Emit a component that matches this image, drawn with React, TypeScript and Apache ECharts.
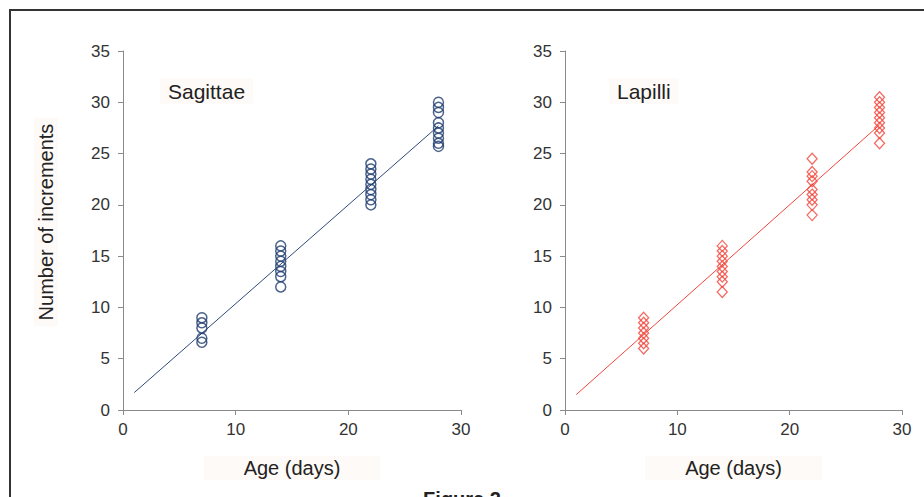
import React, { useEffect, useRef } from "react";
import * as echarts from "echarts";

const xTicks = [0, 10, 20, 30];
const ages = [7, 14, 22, 28];
const sagittae7 = [9, 8.5, 8, 7, 6.6];
const sagittae14 = [16, 15.5, 15, 14.5, 14, 13.5, 13, 12];
const sagittae22 = [24, 23.5, 23, 22.5, 22, 21.5, 21, 20.5, 20];
const sagittae28 = [30, 29.5, 29, 28, 27.5, 27, 26.5, 26, 25.7];
const lapilli7 = [9, 8.5, 8, 7.5, 7, 6.5, 6];
const lapilli14 = [16, 15.5, 15, 14.5, 14, 13.5, 13, 12.5, 11.5];
const lapilli22 = [24.5, 23.2, 22.8, 22.3, 21.5, 21, 20.5, 20, 19];
const lapilli28 = [30.5, 30, 29.5, 29, 28.5, 28, 27.5, 27, 26];
const sagittaeFit = [[1, 1.7], [28, 27.7]];
const lapilliFit = [[1, 1.5], [28, 27.8]];

const FONT = "'Liberation Sans', Arial, sans-serif";
const PATCH = "#fefaf7";

function toPoints(groups: number[][]) {
  const pts: number[][] = [];
  groups.forEach((g, i) => g.forEach((v) => pts.push([ages[i], v])));
  return pts;
}

export default function App() {
  const ref = useRef<HTMLDivElement>(null);
  useEffect(() => {
    if (!ref.current) return;
    const chart = echarts.init(ref.current, null, { renderer: "svg" });
    const axisLine = { lineStyle: { color: "#8a8a8a", width: 1 } };
    const xAxisBase = {
      type: "value",
      min: xTicks[0],
      max: xTicks[xTicks.length - 1],
      interval: 10,
      axisLine: { show: true, onZero: false, ...axisLine },
      axisTick: { show: true, length: 5, lineStyle: { color: "#8a8a8a" } },
      splitLine: { show: false },
      axisLabel: { color: "#333", fontSize: 17, fontFamily: FONT, margin: 11 },
      name: "Age (days)",
      nameLocation: "middle",
      nameGap: 46,
      nameTextStyle: {
        color: "#222",
        fontSize: 20,
        fontFamily: FONT,
        backgroundColor: PATCH,
        padding: [2, 40, 2, 40],
      },
    };
    const yAxisBase = {
      type: "value",
      min: 0,
      max: 35,
      interval: 5,
      axisLine: { show: true, onZero: false, ...axisLine },
      axisTick: { show: true, length: 5, lineStyle: { color: "#8a8a8a" } },
      splitLine: { show: false },
      axisLabel: { color: "#333", fontSize: 17, fontFamily: FONT, margin: 13 },
    };
    chart.setOption({
      animation: false,
      backgroundColor: "#ffffff",
      grid: [
        { left: 123, top: 51, width: 338, height: 359 },
        { left: 565, top: 51, width: 337, height: 359 },
      ],
      xAxis: [
        { ...xAxisBase, gridIndex: 0 },
        { ...xAxisBase, gridIndex: 1 },
      ],
      yAxis: [
        { ...yAxisBase, gridIndex: 0 },
        { ...yAxisBase, gridIndex: 1 },
      ],
      series: [
        {
          type: "line",
          xAxisIndex: 0,
          yAxisIndex: 0,
          data: sagittaeFit,
          showSymbol: false,
          lineStyle: { color: "#2e4a7a", width: 1 },
          z: 1,
        },
        {
          type: "scatter",
          xAxisIndex: 0,
          yAxisIndex: 0,
          data: toPoints([sagittae7, sagittae14, sagittae22, sagittae28]),
          symbol: "circle",
          symbolSize: 10,
          itemStyle: { color: "rgba(0,0,0,0)", borderColor: "#1f3c6e", borderWidth: 1.5 },
          z: 2,
        },
        {
          type: "line",
          xAxisIndex: 1,
          yAxisIndex: 1,
          data: lapilliFit,
          showSymbol: false,
          lineStyle: { color: "#f0463c", width: 1 },
          z: 1,
        },
        {
          type: "scatter",
          xAxisIndex: 1,
          yAxisIndex: 1,
          data: toPoints([lapilli7, lapilli14, lapilli22, lapilli28]),
          symbol: "diamond",
          symbolSize: [10, 11],
          itemStyle: { color: "rgba(0,0,0,0)", borderColor: "#f0463c", borderWidth: 1.3 },
          z: 2,
        },
      ],
      graphic: [
        {
          type: "rect",
          shape: { x: 10, y: 10, width: 960, height: 540 },
          style: { fill: "none", stroke: "#333", lineWidth: 2 },
          silent: true,
        },
        {
          type: "text",
          x: 160,
          y: 91,
          style: {
            text: "Sagittae",
            font: `21px ${FONT}`,
            fill: "#222",
            verticalAlign: "middle",
            backgroundColor: PATCH,
            padding: [2, 8, 2, 8],
          },
        },
        {
          type: "text",
          x: 609,
          y: 91,
          style: {
            text: "Lapilli",
            font: `21px ${FONT}`,
            fill: "#222",
            verticalAlign: "middle",
            backgroundColor: PATCH,
            padding: [2, 8, 2, 8],
          },
        },
        {
          type: "text",
          x: 46,
          y: 222,
          rotation: Math.PI / 2,
          style: {
            text: "Number of increments",
            font: `20px ${FONT}`,
            fill: "#222",
            align: "center",
            verticalAlign: "middle",
            backgroundColor: PATCH,
            padding: [2, 6, 2, 6],
          },
        },
        {
          type: "text",
          x: 462,
          y: 489,
          style: {
            text: "Figure 2",
            font: `bold 20px ${FONT}`,
            fill: "#222",
            align: "center",
            verticalAlign: "top",
          },
        },
      ],
    });
    return () => chart.dispose();
  }, []);
  return (
    <div
      ref={ref}
      style={{ position: "fixed", left: 0, top: 0, width: 924, height: 497 }}
    />
  );
}
